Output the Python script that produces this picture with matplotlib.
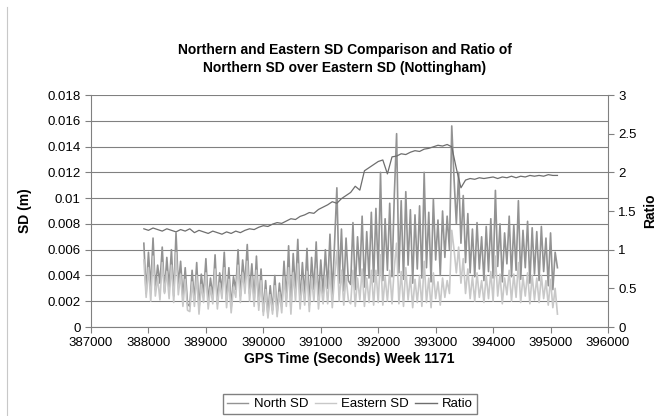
import numpy as np
import matplotlib.pyplot as plt
from matplotlib.lines import Line2D
from matplotlib.ticker import FuncFormatter

plt.rcParams['font.family'] = ['Liberation Sans', 'DejaVu Sans']

# GPS epochs: SD series every 40 s, ratio every 80 s
t_start = 387920
t_sd = t_start + 40 * np.arange(181)
t_ratio = t_start + 80 * np.arange(91)

# North SD (mm)
north_sd_mm = [
    6.5, 2.6, 5.8, 3.1, 6.9, 2.9, 4.8, 3.4, 6.2, 2.7,
    5.4, 3.0, 6.0, 2.4, 7.3, 3.2, 5.1, 2.2, 4.6, 1.8,
    1.6, 4.4, 2.0, 5.0, 1.4, 4.1, 2.5, 5.3, 1.9, 3.8,
    2.3, 5.6, 1.8, 4.2, 2.8, 5.8, 2.0, 4.6, 1.5, 3.9,
    2.9, 6.0, 2.4, 5.2, 3.3, 6.4, 2.6, 4.9, 2.1, 5.5,
    1.7, 4.5, 1.2, 3.6, 0.9, 3.2, 1.3, 4.0, 1.1, 3.4,
    1.6, 5.1, 2.2, 6.3, 1.4, 5.7, 2.8, 6.8, 1.9, 5.0,
    2.4, 6.1, 1.7, 5.4, 2.9, 6.6, 2.1, 5.2, 2.6, 6.0,
    3.0, 7.2, 2.5, 6.5, 10.8, 3.4, 7.6, 2.8, 6.9, 3.6,
    3.3, 8.1, 2.9, 7.0, 4.0, 8.6, 3.1, 7.4, 3.8, 8.9,
    3.5, 9.2, 4.1, 12.0, 3.6, 8.4, 4.4, 9.6, 3.9, 10.2,
    15.0, 4.2, 9.8, 3.7, 10.5, 4.8, 9.1, 3.4, 8.7, 4.5,
    9.4, 3.8, 12.0, 4.6, 8.9, 3.5, 9.9, 5.2, 8.3, 4.0,
    9.0, 5.4, 8.6, 6.0, 15.6, 11.5, 8.0, 12.0, 6.5, 10.2,
    5.0, 8.8, 4.2, 7.6, 3.9, 8.1, 4.5, 7.0, 3.6, 7.8,
    4.3, 8.4, 3.8, 10.6, 4.7, 8.0, 3.5, 7.3, 4.9, 8.6,
    3.9, 7.9, 4.4, 9.8, 3.7, 7.5, 4.6, 8.2, 3.4, 7.7,
    4.1, 7.4, 3.6, 7.8, 4.3, 6.9, 3.2, 7.3, 2.9, 5.8,
    4.6,
]

# Eastern SD (mm)
east_sd_mm = [
    5.2, 2.3, 4.6, 2.0, 5.5, 2.4, 3.8, 2.1, 5.0, 2.6,
    4.3, 2.2, 4.8, 1.9, 5.8, 2.5, 4.1, 1.6, 3.7, 1.3,
    1.2, 3.5, 1.6, 4.0, 1.0, 3.3, 1.9, 4.2, 1.4, 3.1,
    1.8, 4.5, 1.4, 3.4, 2.2, 4.6, 1.5, 3.7, 1.1, 3.1,
    2.3, 4.8, 1.9, 4.2, 2.6, 5.1, 2.0, 3.9, 1.6, 4.4,
    1.3, 3.6, 0.9, 2.9, 0.7, 2.5, 1.0, 3.2, 0.8, 2.7,
    1.1, 3.9, 1.6, 4.6, 1.0, 4.2, 2.0, 4.9, 1.4, 3.6,
    1.7, 4.3, 1.2, 3.8, 2.0, 4.5, 1.4, 3.5, 1.8, 4.0,
    1.8, 4.4, 1.5, 3.9, 5.9, 2.0, 4.4, 1.7, 3.9, 2.1,
    1.8, 4.4, 1.6, 3.8, 2.1, 4.5, 1.6, 3.8, 1.9, 4.4,
    1.7, 4.4, 1.9, 5.6, 1.7, 3.9, 2.0, 4.4, 1.8, 4.6,
    6.5, 1.8, 4.3, 1.6, 4.6, 2.1, 3.9, 1.5, 3.7, 1.9,
    4.0, 1.6, 5.1, 1.9, 3.8, 1.5, 4.2, 2.2, 3.5, 1.7,
    3.8, 2.3, 3.6, 2.6, 7.5, 6.0, 4.2, 6.2, 3.4, 5.3,
    2.6, 4.5, 2.2, 3.9, 2.0, 4.2, 2.3, 3.6, 1.9, 4.0,
    2.2, 4.3, 2.0, 5.5, 2.4, 4.1, 1.8, 3.8, 2.5, 4.4,
    2.0, 4.1, 2.3, 5.0, 1.9, 3.9, 2.4, 4.2, 1.8, 4.0,
    2.1, 3.8, 1.9, 4.0, 2.2, 3.6, 1.7, 3.7, 1.5, 3.0,
    1.0,
]

# Ratio North SD / Eastern SD
ratio = [
    1.27, 1.25, 1.28, 1.26, 1.24, 1.27, 1.25, 1.23, 1.26, 1.24,
    1.27, 1.22, 1.25, 1.23, 1.21, 1.24, 1.22, 1.20, 1.23, 1.21,
    1.24, 1.22, 1.25, 1.27, 1.26, 1.29, 1.31, 1.30, 1.33, 1.35,
    1.34, 1.37, 1.40, 1.39, 1.43, 1.45, 1.48, 1.47, 1.52, 1.55,
    1.58, 1.62, 1.60, 1.66, 1.70, 1.74, 1.82, 1.77, 2.02, 2.06,
    2.10, 2.14, 2.16, 1.98, 2.20, 2.21, 2.24, 2.23, 2.26, 2.28,
    2.27, 2.30, 2.31, 2.33, 2.35, 2.34, 2.36, 2.33, 2.05, 1.80,
    1.90, 1.92, 1.91, 1.93, 1.92, 1.93, 1.94, 1.92, 1.94, 1.93,
    1.95, 1.93, 1.95, 1.94, 1.96, 1.95, 1.96, 1.95, 1.97, 1.96,
    1.96,
]

north_sd = np.array(north_sd_mm) / 1000
east_sd = np.array(east_sd_mm) / 1000

grey = '#808080'
c_north = '#939393'
c_east = '#c8c8c8'
c_ratio = '#6e6e6e'

fig = plt.figure(figsize=(6.72, 4.16), dpi=100)
ax = fig.add_axes([91/672, 1-327/416, 517/672, 232/416])

ax.plot(t_sd, north_sd, color=c_north, lw=1.2)
ax.plot(t_sd, east_sd, color=c_east, lw=1.2)

ax2 = ax.twinx()
ax2.plot(t_ratio, ratio, color=c_ratio, lw=0.9)

ax.set_xlim(387000, 396000)
ax.set_ylim(0, 0.018)
ax2.set_ylim(0, 3)
ax.set_xticks(np.arange(387000, 396001, 1000))
ax.set_yticks(np.arange(0, 0.0181, 0.002))
ax2.set_yticks(np.arange(0, 3.01, 0.5))
ax.yaxis.set_major_formatter(FuncFormatter(lambda v, p: '%g' % round(v, 3)))
ax2.yaxis.set_major_formatter(FuncFormatter(lambda v, p: '%g' % v))
ax.xaxis.set_major_formatter(FuncFormatter(lambda v, p: '%d' % v))

ax.yaxis.grid(True, color=grey, lw=0.8)
ax.set_axisbelow(True)

for a in (ax, ax2):
    a.tick_params(direction='out', length=4, color=grey, labelsize=9.5, width=0.8)
    a.spines['top'].set_visible(False)
ax.spines['right'].set_visible(False)
ax2.spines['left'].set_visible(False)
ax2.spines['bottom'].set_visible(False)
ax.spines['left'].set_color(grey)
ax.spines['bottom'].set_color(grey)
ax2.spines['right'].set_color(grey)

ax.set_ylabel('SD (m)', fontweight='bold', fontsize=10)
ax.yaxis.set_label_coords(-0.114, 0.5)
ax2.set_ylabel('Ratio', fontweight='bold', fontsize=10)
ax2.yaxis.set_label_coords(1.068, 0.5)
ax.set_xlabel('GPS Time (Seconds) Week 1171', fontweight='bold', fontsize=10)
ax.xaxis.set_label_coords(0.5, -0.108)

fig.text(345/672, 1-59/416,
         'Northern and Eastern SD Comparison and Ratio of\nNorthern SD over Eastern SD (Nottingham)',
         ha='center', va='center', fontweight='bold', fontsize=10, linespacing=1.45)

legend_handles = [Line2D([], [], color=c_north, lw=1.0),
                  Line2D([], [], color=c_east, lw=1.0),
                  Line2D([], [], color=c_ratio, lw=1.0)]
fig.legend(legend_handles, ['North SD', 'Eastern SD', 'Ratio'], loc='center',
           bbox_to_anchor=(350/672, 1-404/416), ncol=3, fontsize=9.5,
           fancybox=False, edgecolor=grey, framealpha=1, handlelength=1.6,
           handletextpad=0.4, columnspacing=0.5, borderpad=0.3)

# chart area border on the left
fig.add_artist(Line2D([6.5/672, 6.5/672], [0, 1-7/416], color='#c8c8c8', lw=0.8))

fig.savefig('out.png', dpi=100)
